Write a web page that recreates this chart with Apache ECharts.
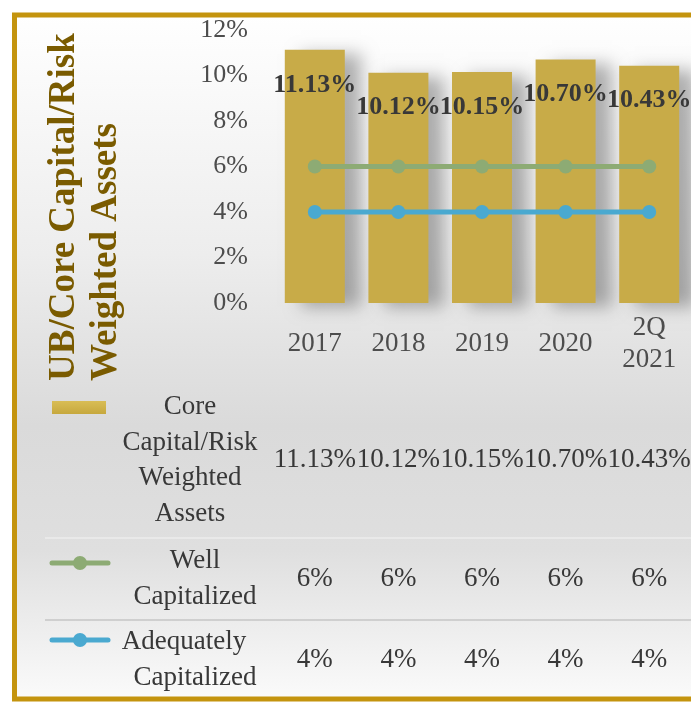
<!DOCTYPE html>
<html>
<head>
<meta charset="utf-8">
<script src="https://cdn.jsdelivr.net/npm/echarts@6/dist/echarts.min.js"></script>
<style>
  html, body { margin: 0; padding: 0; background: #ffffff; }
  #chart { width: 691px; height: 702px; }
</style>
</head>
<body>
<div id="chart"></div>
<script>
  // chart data
  const categories = ['2017', '2018', '2019', '2020', '2Q\n2021'];
  const coreCapital = [11.13, 10.12, 10.15, 10.70, 10.43];
  const wellCapitalized = [6, 6, 6, 6, 6];
  const adequatelyCapitalized = [4, 4, 4, 4, 4];
  const seriesNames = ['Core Capital/Risk Weighted Assets', 'Well Capitalized', 'Adequately Capitalized'];
  const titleLines = ['UB/Core Capital/Risk', 'Weighted Assets'];

  const SERIF = '"Liberation Serif", "Times New Roman", serif';
  const GOLD = '#c8ab48';
  const GREEN = '#8dab74';
  const BLUE = '#4aa9d0';
  const TEXT = '#383838';
  const AXIS_TEXT = '#4d4d4d';

  const chart = echarts.init(document.getElementById('chart'));

  function fmt(v) {
    return v % 1 === 0 ? v + '%' : v.toFixed(2) + '%';
  }

  chart.setOption({
    animation: false,
    grid: { left: 273, right: -4, top: 30, bottom: 399 },
    xAxis: {
      type: 'category',
      data: categories,
      axisLine: { show: false },
      axisTick: { show: false },
      axisLabel: {
        color: AXIS_TEXT,
        fontFamily: SERIF,
        fontSize: 27,
        lineHeight: 32,
        verticalAlign: 'middle',
        margin: 41,
      },
    },
    yAxis: {
      type: 'value',
      min: 0,
      max: 12,
      interval: 2,
      splitLine: { show: false },
      axisLine: { show: false },
      axisTick: { show: false },
      axisLabel: {
        formatter: '{value}%',
        color: AXIS_TEXT,
        fontFamily: SERIF,
        fontSize: 26,
        margin: 25,
      },
    },
    series: [
      {
        name: seriesNames[0],
        type: 'bar',
        data: coreCapital,
        barWidth: 60,
        itemStyle: {
          color: GOLD,
          shadowColor: 'rgba(0,0,0,0.3)',
          shadowBlur: 16,
          shadowOffsetX: 16,
          shadowOffsetY: 4,
        },
        label: {
          show: true,
          position: 'insideTop',
          distance: 22,
          formatter: (p) => fmt(p.value),
          color: TEXT,
          fontFamily: SERIF,
          fontWeight: 'bold',
          fontSize: 26,
        },
      },
      {
        name: seriesNames[1],
        type: 'line',
        data: wellCapitalized,
        symbol: 'circle',
        symbolSize: 14,
        lineStyle: { color: GREEN, width: 5 },
        itemStyle: { color: GREEN },
      },
      {
        name: seriesNames[2],
        type: 'line',
        data: adequatelyCapitalized,
        symbol: 'circle',
        symbolSize: 14,
        lineStyle: { color: BLUE, width: 5 },
        itemStyle: { color: BLUE },
      },
    ],
  });

  // frame, title and data table drawn as graphics, values taken from the arrays above
  function buildGraphics() {
    const els = [];

    els.push({
      type: 'rect',
      z: -10,
      shape: { x: 14.5, y: 15, width: 720, height: 684 },
      style: {
        fill: new echarts.graphic.LinearGradient(0, 0, 0, 1, [
          { offset: 0, color: '#ffffff' },
          { offset: 0.35, color: '#ededed' },
          { offset: 0.6, color: '#dadada' },
          { offset: 0.78, color: '#dfdfdf' },
          { offset: 1, color: '#fbfbfb' },
        ]),
        stroke: '#c4940e',
        lineWidth: 5,
      },
    });

    // vertical title
    [64, 106].forEach((x, i) => {
      els.push({
        type: 'text',
        x: x,
        y: 381,
        rotation: Math.PI / 2,
        style: {
          text: titleLines[i],
          fill: '#7a5b00',
          fontFamily: SERIF,
          fontWeight: 'bold',
          fontSize: 37,
          align: 'left',
          verticalAlign: 'middle',
        },
      });
    });

    // row separators
    [[538, '#ececec'], [620, '#c6c6c6']].forEach(([y, c]) => {
      els.push({
        type: 'line',
        shape: { x1: 45, y1: y, x2: 691, y2: y },
        style: { stroke: c, lineWidth: 1.5 },
      });
    });

    // legend keys
    els.push({
      type: 'rect',
      shape: { x: 52, y: 401, width: 54, height: 13 },
      style: {
        fill: new echarts.graphic.LinearGradient(0, 0, 0, 1, [
          { offset: 0, color: '#d9bd55' },
          { offset: 1, color: '#c6a83e' },
        ]),
      },
    });
    [[563, GREEN], [640, BLUE]].forEach(([y, c]) => {
      els.push({
        type: 'line',
        shape: { x1: 52, y1: y, x2: 108, y2: y },
        style: { stroke: c, lineWidth: 5, lineCap: 'round' },
      });
      els.push({
        type: 'circle',
        shape: { cx: 80, cy: y, r: 7 },
        style: { fill: c },
      });
    });

    // row names
    const names = [
      { lines: ['Core', 'Capital/Risk', 'Weighted', 'Assets'], x: [190, 190, 190, 190], y: 407 },
      { lines: ['Well', 'Capitalized'], x: [195, 195], y: 561 },
      { lines: ['Adequately', 'Capitalized'], x: [184, 195], y: 642 },
    ];
    names.forEach((n) => {
      n.lines.forEach((t, j) => {
        els.push({
          type: 'text',
          x: n.x[j],
          y: n.y + j * 35.6,
          style: {
            text: t,
            fill: TEXT,
            fontFamily: SERIF,
            fontSize: 27,
            align: 'center',
            verticalAlign: 'middle',
          },
        });
      });
    });

    // row values
    const rows = [
      { data: coreCapital, y: 460 },
      { data: wellCapitalized, y: 579 },
      { data: adequatelyCapitalized, y: 660 },
    ];
    rows.forEach((r) => {
      r.data.forEach((v, i) => {
        const x = chart.convertToPixel({ xAxisIndex: 0 }, i);
        els.push({
          type: 'text',
          x: x,
          y: r.y,
          style: {
            text: fmt(v),
            fill: TEXT,
            fontFamily: SERIF,
            fontSize: 27,
            align: 'center',
            verticalAlign: 'middle',
          },
        });
      });
    });

    return els;
  }

  chart.setOption({ graphic: buildGraphics() });
</script>
</body>
</html>
